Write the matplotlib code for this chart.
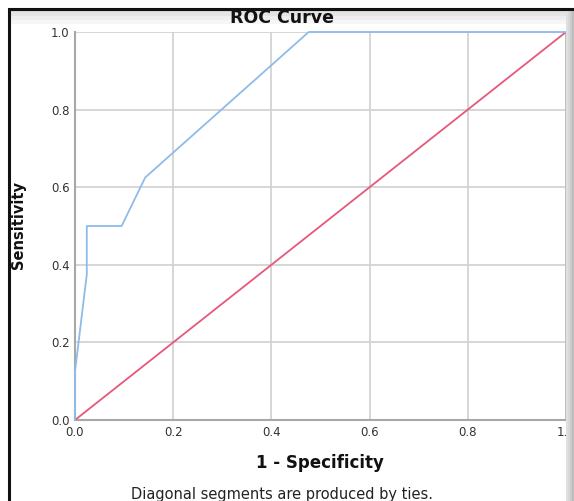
import matplotlib.pyplot as plt
from matplotlib.patches import Rectangle

plt.rcParams['font.family'] = ['DejaVu Sans']

# ROC curve points (1 - specificity, sensitivity)
fpr = [0.0, 0.0, 0.024, 0.024, 0.095, 0.143, 0.476, 1.0]
tpr = [0.0, 0.125, 0.375, 0.5, 0.5, 0.625, 1.0, 1.0]
ref_line = [0.0, 1.0]
ticks = [0.0, 0.2, 0.4, 0.6, 0.8, 1.0]

col_roc = '#8fbbe9'
col_ref = '#e6587a'

W, H = 574, 501
fig = plt.figure(figsize=(W / 100, H / 100), dpi=100)

# soft shadow band under the top border and along the right edge
for i, g in enumerate(['#d8d8d8', '#e4e4e4', '#eeeeee', '#f6f6f6']):
    fig.patches.append(Rectangle((10 / W, 1 - (12 + 4 * i) / H), 1, 4 / H,
                                 transform=fig.transFigure, facecolor=g,
                                 edgecolor='none', zorder=0))
for i, g in enumerate(['#e0e0e0', '#d8d8d8', '#cbcbcb', '#bdbdbd']):
    fig.patches.append(Rectangle((566 / W + 2 * i / W, 0), 2 / W, 1 - 10 / H,
                                 transform=fig.transFigure, facecolor=g,
                                 edgecolor='none', zorder=0))
fig.patches.append(Rectangle((9 / W, -0.1), 1.2, (H - 9) / H + 0.1,
                             transform=fig.transFigure, fill=False,
                             edgecolor='#111111', linewidth=2.2, zorder=1))

ax = fig.add_axes([75 / W, 81 / H, 491 / W, 388 / H])
ax.plot(ref_line, ref_line, color=col_ref, linewidth=1.3, zorder=3)
ax.plot(fpr, tpr, color=col_roc, linewidth=1.3, zorder=4, clip_on=False)

ax.set_xlim(0, 1)
ax.set_ylim(0, 1)
ax.set_xticks(ticks)
ax.set_yticks(ticks)
ax.set_xticklabels(['%.1f' % t for t in ticks])
ax.set_yticklabels(['%.1f' % t for t in ticks])
ax.tick_params(length=0, labelsize=8.5, colors='#333333', pad=4)
ax.grid(True, color='#d0d0d0', linewidth=1.2)
ax.set_axisbelow(True)
ax.spines['top'].set_visible(False)
ax.spines['left'].set_color('#a8a8a8')
ax.spines['bottom'].set_color('#a8a8a8')
ax.spines['right'].set_color('#bbbbbb')
ax.spines['left'].set_linewidth(1.5)
ax.spines['bottom'].set_linewidth(1.5)
ax.spines['right'].set_linewidth(1.2)

fig.text(282 / W, 1 - 18 / H, 'ROC Curve', ha='center', va='center',
         fontsize=12.5, fontweight='bold', color='#111111')
fig.text(320 / W, 1 - 463 / H, '1 - Specificity', ha='center', va='center',
         fontsize=12, fontweight='bold', color='#111111')
fig.text(19 / W, 1 - 225 / H, 'Sensitivity', ha='center', va='center',
         rotation=90, fontsize=10.5, fontweight='bold', color='#111111')
fig.text(282 / W, 1 - 494 / H, 'Diagonal segments are produced by ties.',
         ha='center', va='center', fontsize=10.5, color='#222222')

fig.savefig('out.png', dpi=100)
